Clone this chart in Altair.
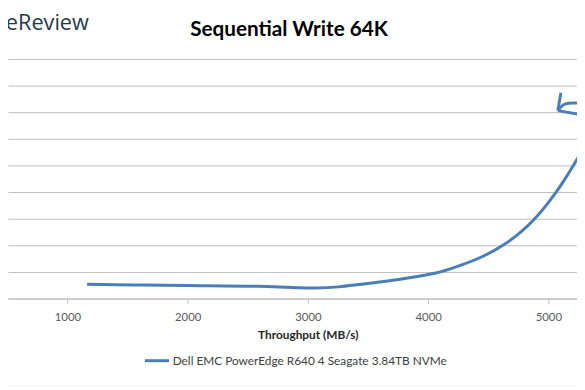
import altair as alt
import pandas as pd

# ---- data ----
series_name = "Dell EMC PowerEdge R640 4 Seagate 3.84TB NVMe"
throughput = [1164, 1561, 1998, 2580, 2900, 3064, 3254, 3446, 3664, 3883, 4074, 4238, 4457,
              4648, 4784, 4907, 5057, 5167, 5234, 5300]
latency = [0.54, 0.51, 0.49, 0.46, 0.41, 0.40, 0.44, 0.54, 0.66, 0.81, 0.97, 1.20, 1.59,
           2.08, 2.55, 3.10, 3.95, 4.70, 5.20, 5.73]
x_ticks = [1000, 2000, 3000, 4000, 5000]
y_grid = [0, 1, 2, 3, 4, 5, 6, 7, 8, 9]

chart_title = "Sequential Write 64K"
x_title = "Throughput (MB/s)"
logo_text = "StorageReview"

# hand-drawn arrow annotation (data coordinates)
arrow_throughput = [5104, 5079, 5079, 5137, 5293, 5079, 5293]
arrow_latency = [7.73, 7.06, 7.06, 7.30, 7.33, 7.06, 6.89]
arrow_stroke = ["a", "a", "b", "b", "b", "c", "c"]
arrow_order = [0, 1, 0, 1, 2, 0, 1]

df = pd.DataFrame({
    "throughput": throughput,
    "latency": latency,
    "series": [series_name] * len(throughput),
})
arrow_df = pd.DataFrame({
    "throughput": arrow_throughput,
    "latency": arrow_latency,
    "stroke": arrow_stroke,
    "ord": arrow_order,
})

BLUE = "#4a7ebb"
GRID = "#bdbdbd"

x_scale = alt.Scale(domain=[506, 5238], nice=False, zero=False)
y_scale = alt.Scale(domain=[0, 9], nice=False, zero=True)

x_axis = alt.Axis(values=x_ticks, format="d", grid=False, title=x_title,
                  labelFont="Lato", labelFontSize=11.5, labelColor="#595959",
                  labelPadding=8, tickSize=5, tickColor=GRID, domainColor=GRID,
                  titleFont="Lato", titleFontSize=12, titleFontWeight="bold",
                  titleColor="#262626", titleX=304, titleY=37, titleAlign="center",
                  titleBaseline="middle")
y_axis = alt.Axis(values=y_grid, labels=False, ticks=False, domain=False, title=None,
                  grid=True, gridColor=GRID, gridWidth=1)

line = alt.Chart(df).mark_line(interpolate="catmull-rom", strokeWidth=3, clip=True).encode(
    x=alt.X("throughput:Q", scale=x_scale, axis=x_axis),
    y=alt.Y("latency:Q", scale=y_scale, axis=y_axis),
    color=alt.Color("series:N", scale=alt.Scale(range=[BLUE]),
                    legend=alt.Legend(title=None, orient="none", legendX=137, legendY=292,
                                      symbolType="stroke", symbolSize=600, symbolStrokeWidth=3,
                                      labelFont="Lato", labelFontSize=12, labelColor="#404040",
                                      labelOffset=2, labelLimit=600)),
)

arrow = alt.Chart(arrow_df).mark_line(interpolate="catmull-rom", strokeWidth=3, clip=True, color=BLUE).encode(
    x=alt.X("throughput:Q", scale=x_scale, axis=x_axis),
    y=alt.Y("latency:Q", scale=y_scale, axis=y_axis),
    detail="stroke:N",
    order="ord:Q",
)

title = alt.Chart(pd.DataFrame({"t": [chart_title]})).mark_text(
    align="center", baseline="alphabetic", font="Lato", fontSize=21, fontWeight="bold", color="#000000"
).encode(text="t:N", x=alt.value(285), y=alt.value(-23))

logo = alt.Chart(pd.DataFrame({"logo": [logo_text]})).mark_text(
    align="right", baseline="alphabetic", font="Open Sans", fontSize=22, color="#1e3a4c"
).encode(text="logo:N", x=alt.value(82), y=alt.value(-29))

border = alt.Chart(pd.DataFrame({"b": [0]})).mark_rule(color="#a6a6a6", strokeWidth=1).encode(
    x=alt.value(0), x2=alt.value(577), y=alt.value(332)
)

chart = alt.layer(line, arrow, title, logo, border).properties(
    width=577,
    height=243,
    padding={"left": 0, "top": 49, "right": 0, "bottom": 86},
    autosize=alt.AutoSizeParams(type="none"),
).configure_view(stroke=None)

chart.save("out.html", embed_options={"renderer": "svg", "actions": False})
